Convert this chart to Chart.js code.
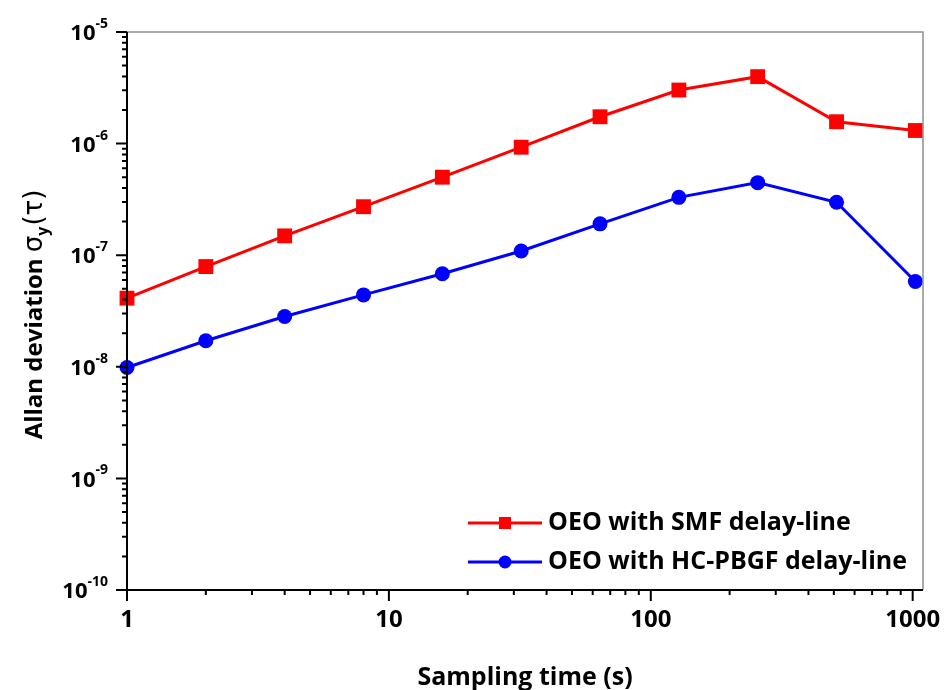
<!DOCTYPE html>
<html>
<head>
<meta charset="utf-8">
<script src="https://cdn.jsdelivr.net/npm/chart.js@4.4.1/dist/chart.umd.min.js"></script>
<style>
  html, body { margin: 0; padding: 0; background: #fff; }
  #wrap { width: 944px; height: 690px; }
</style>
</head>
<body>
<div id="wrap"><canvas id="allanChart" width="944" height="690"></canvas></div>
<script>
'use strict';

// sampling time, s
const tau = [1, 2, 4, 8, 16, 32, 64, 128, 256, 512, 1024];
const smfDev = [4.12e-8, 7.91e-8, 1.49e-7, 2.72e-7, 5.0e-7, 9.28e-7, 1.74e-6, 3.02e-6, 3.98e-6, 1.57e-6, 1.31e-6];
const pbgfDev = [9.86e-9, 1.71e-8, 2.82e-8, 4.41e-8, 6.81e-8, 1.09e-7, 1.91e-7, 3.30e-7, 4.47e-7, 2.98e-7, 5.81e-8];
const seriesNames = ['OEO with SMF delay-line', 'OEO with HC-PBGF delay-line'];
const xMajorTicks = [1, 10, 100, 1000];
const xTickLabels = ['1', '10', '100', '1000'];
const yExponents = [-5, -6, -7, -8, -9, -10];

const FONT = '"Open Sans", Lato, sans-serif';

function minorTicks(lo, hi) {
    const out = [];
    for (let d = lo; d <= hi; d *= 10) {
        for (let k = 1; k <= 9; k++) out.push(k * d);
    }
    return out;
}

const axisPlugin = {
    id: 'axisDecor',
    afterDatasetsDraw(chart) {
        const ctx = chart.ctx;
        const a = chart.chartArea;
        const xs = chart.scales.x;
        const ys = chart.scales.y;
        ctx.save();

        // top + right frame
        ctx.strokeStyle = '#8f8f8f';
        ctx.lineWidth = 1.5;
        ctx.beginPath();
        ctx.moveTo(a.left, a.top);
        ctx.lineTo(a.right, a.top);
        ctx.lineTo(a.right, a.bottom);
        ctx.stroke();

        // left + bottom axes
        ctx.strokeStyle = '#000';
        ctx.lineWidth = 2;
        ctx.beginPath();
        ctx.moveTo(a.left, a.top);
        ctx.lineTo(a.left, a.bottom);
        ctx.lineTo(a.right, a.bottom);
        ctx.stroke();

        // x ticks
        ctx.beginPath();
        minorTicks(1, 1000).forEach(v => {
            if (v > xs.max) return;
            const px = xs.getPixelForValue(v);
            const major = xMajorTicks.includes(v);
            ctx.moveTo(px, a.bottom);
            ctx.lineTo(px, a.bottom + (major ? 11 : 5));
        });
        // y ticks
        minorTicks(1e-10, 1e-6).forEach(v => {
            const py = ys.getPixelForValue(v);
            const major = Math.abs(Math.log10(v) - Math.round(Math.log10(v))) < 1e-6;
            ctx.moveTo(a.left, py);
            ctx.lineTo(a.left - (major ? 11 : 5), py);
        });
        const topY = ys.getPixelForValue(1e-5);
        ctx.moveTo(a.left, topY);
        ctx.lineTo(a.left - 11, topY);
        ctx.stroke();

        // x tick labels
        ctx.fillStyle = '#000';
        ctx.font = 'bold 24px ' + FONT;
        ctx.textAlign = 'center';
        ctx.textBaseline = 'top';
        xMajorTicks.forEach((v, i) => {
            ctx.fillText(xTickLabels[i], xs.getPixelForValue(v), a.bottom + 18);
        });

        // y tick labels 10^n
        const rightEdge = a.left - 19;
        yExponents.forEach(e => {
            const py = ys.getPixelForValue(Math.pow(10, e));
            const expTxt = String(e);
            ctx.font = 'bold 14px ' + FONT;
            const ew = ctx.measureText(expTxt).width;
            ctx.textAlign = 'left';
            ctx.textBaseline = 'middle';
            ctx.fillText(expTxt, rightEdge - ew, py - 8);
            ctx.font = 'bold 22px ' + FONT;
            ctx.textAlign = 'right';
            ctx.fillText('10', rightEdge - ew, py + 2);
        });

        // axis titles
        ctx.font = 'bold 25px ' + FONT;
        ctx.textAlign = 'center';
        ctx.textBaseline = 'alphabetic';
        ctx.fillText('Sampling time (s)', (a.left + a.right) / 2, 685);

        ctx.translate(42, (a.top + a.bottom) / 2 + 4);
        ctx.rotate(-Math.PI / 2);
        const partA = 'Allan deviation ';
        const sigma = 'σ';
        const sub = 'y';
        const partB = '(τ)';
        const fMain = 'bold 24px ' + FONT;
        const fGreek = '26px "DejaVu Sans", sans-serif';
        const fSub = 'bold 16px ' + FONT;
        ctx.font = fMain; const wA = ctx.measureText(partA).width;
        ctx.font = fGreek; const wS = ctx.measureText(sigma).width;
        ctx.font = fSub; const wSub = ctx.measureText(sub).width;
        ctx.font = fGreek; const wB = ctx.measureText(partB).width;
        let x0 = -(wA + wS + wSub + wB) / 2;
        ctx.textAlign = 'left';
        ctx.font = fMain; ctx.fillText(partA, x0, 0); x0 += wA;
        ctx.font = fGreek; ctx.fillText(sigma, x0, 0); x0 += wS;
        ctx.font = fSub; ctx.fillText(sub, x0, 6); x0 += wSub + 1;
        ctx.font = fGreek; ctx.fillText(partB, x0, 0);
        ctx.setTransform(1, 0, 0, 1, 0, 0);

        // legend
        const rows = [523, 562];
        chart.data.datasets.forEach((ds, i) => {
            const y = rows[i];
            ctx.strokeStyle = ds.borderColor;
            ctx.lineWidth = 3;
            ctx.beginPath();
            ctx.moveTo(468, y);
            ctx.lineTo(542, y);
            ctx.stroke();
            ctx.fillStyle = ds.borderColor;
            if (ds.pointStyle === 'rect') {
                ctx.fillRect(505 - 6, y - 6, 12, 12);
            } else {
                ctx.beginPath();
                ctx.arc(505, y, 6.5, 0, Math.PI * 2);
                ctx.fill();
            }
            ctx.fillStyle = '#000';
            ctx.font = 'bold 25px ' + FONT;
            ctx.textAlign = 'left';
            ctx.textBaseline = 'middle';
            ctx.fillText(ds.label, 548, y);
        });

        ctx.restore();
    }
};

const ctx = document.getElementById('allanChart').getContext('2d');
new Chart(ctx, {
    type: 'line',
    data: {
        datasets: [{
            label: seriesNames[0],
            data: tau.map((t, i) => ({ x: t, y: smfDev[i] })),
            borderColor: '#ff0000',
            backgroundColor: '#ff0000',
            borderWidth: 3,
            pointStyle: 'rect',
            pointRadius: 10.5,
            pointBorderWidth: 0,
            clip: false
        }, {
            label: seriesNames[1],
            data: tau.map((t, i) => ({ x: t, y: pbgfDev[i] })),
            borderColor: '#0000ff',
            backgroundColor: '#0000ff',
            borderWidth: 3,
            pointStyle: 'circle',
            pointRadius: 7.5,
            pointBorderWidth: 0,
            clip: false
        }]
    },
    options: {
        responsive: false,
        animation: false,
        layout: { padding: { top: 32, right: 21, left: 0, bottom: 0 } },
        plugins: {
            legend: { display: false },
            tooltip: { enabled: false }
        },
        scales: {
            x: {
                type: 'logarithmic',
                min: 1,
                max: 1095,
                grid: { display: false },
                border: { display: false },
                ticks: { display: false },
                afterFit: s => { s.height = 100; }
            },
            y: {
                type: 'logarithmic',
                min: 1e-10,
                max: 1e-5,
                grid: { display: false },
                border: { display: false },
                ticks: { display: false },
                afterFit: s => { s.width = 127; }
            }
        }
    },
    plugins: [axisPlugin]
});
</script>
</body>
</html>
